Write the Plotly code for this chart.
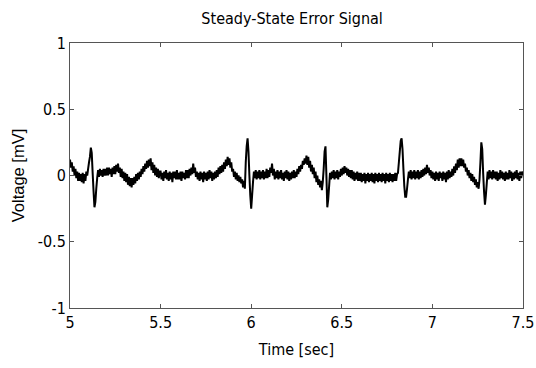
import numpy as np
import plotly.graph_objects as go

t_start = 5.0
t_step = 0.005
voltage = [
    0.12, 0.06, 0.10, 0.03, 0.07, 0.00, 0.05, -0.02, 0.03, -0.04,
    0.02, -0.04, 0.01, -0.05, 0.02, -0.06, 0.01, -0.04, 0.03, 0.00,
    0.05, 0.10, 0.14, 0.21, 0.17, 0.02, -0.12, -0.24, -0.20, -0.10,
    -0.02, 0.04, -0.01, 0.05, 0.00, 0.04, -0.01, 0.05, 0.00, 0.05,
    0.00, 0.06, 0.00, 0.06, 0.01, 0.05, -0.01, 0.06, 0.01, 0.07,
    0.01, 0.08, 0.03, 0.09, 0.02, 0.06, -0.01, 0.05, -0.02, 0.03,
    -0.04, 0.02, -0.05, 0.01, -0.07, -0.01, -0.08, -0.02, -0.09, -0.02,
    -0.07, -0.01, -0.06, 0.01, -0.04, 0.02, -0.03, 0.03, -0.01, 0.05,
    0.01, 0.07, 0.03, 0.09, 0.05, 0.11, 0.06, 0.12, 0.07, 0.13,
    0.04, 0.10, 0.02, 0.08, 0.00, 0.06, -0.01, 0.05, -0.02, 0.03,
    0.03, -0.03, 0.02, -0.04, 0.03, -0.02, 0.04, -0.03, 0.02, -0.04,
    0.03, -0.03, 0.02, -0.05, 0.03, -0.02, 0.03, -0.03, 0.04, -0.03,
    0.02, -0.03, 0.03, -0.04, 0.03, -0.02, 0.02, -0.03, 0.04, -0.02,
    0.04, -0.02, 0.05, 0.00, 0.06, 0.01, 0.09, 0.02, 0.06, -0.01,
    0.03, -0.03, 0.02, -0.04, 0.03, -0.03, 0.02, -0.05, 0.03, -0.03,
    0.02, -0.04, 0.03, -0.03, 0.04, -0.02, 0.03, -0.04, 0.02, -0.03,
    0.03, -0.02, 0.04, -0.01, 0.06, 0.01, 0.07, 0.02, 0.08, 0.03,
    0.10, 0.05, 0.12, 0.07, 0.14, 0.08, 0.13, 0.06, 0.10, 0.03,
    0.05, -0.01, 0.03, -0.03, 0.02, -0.04, 0.00, -0.05, -0.01, -0.06,
    -0.03, -0.09, -0.04, -0.10, 0.10, 0.22, 0.28, 0.18, 0.00, -0.15,
    -0.25, -0.15, -0.05, 0.03, -0.02, 0.04, -0.03, 0.03, -0.02, 0.04,
    -0.03, 0.03, -0.02, 0.04, -0.03, 0.03, -0.02, 0.05, -0.02, 0.04,
    -0.01, 0.06, 0.02, 0.09, 0.00, 0.05, -0.03, 0.03, -0.02, 0.04,
    -0.03, 0.03, -0.02, 0.04, -0.03, 0.02, -0.04, 0.03, -0.02, 0.04,
    -0.03, 0.03, -0.04, 0.02, -0.03, 0.03, -0.02, 0.04, -0.02, 0.03,
    -0.01, 0.05, 0.01, 0.07, 0.03, 0.08, 0.05, 0.11, 0.08, 0.13,
    0.09, 0.15, 0.08, 0.14, 0.06, 0.11, 0.03, 0.08, 0.01, 0.06,
    -0.02, 0.03, -0.05, 0.00, -0.07, -0.03, -0.09, -0.04, -0.11, -0.05,
    0.05, 0.18, 0.22, 0.00, -0.24, -0.18, -0.08, 0.02, -0.03, 0.03,
    -0.02, 0.04, -0.03, 0.03, -0.02, 0.04, -0.03, 0.03, -0.01, 0.05,
    0.00, 0.06, 0.01, 0.07, 0.02, 0.06, 0.00, 0.05, -0.01, 0.04,
    -0.02, 0.04, -0.03, 0.03, -0.04, 0.02, -0.03, 0.03, -0.04, 0.02,
    -0.04, 0.02, -0.05, 0.01, -0.04, 0.02, -0.06, 0.01, -0.04, 0.02,
    -0.05, 0.01, -0.04, 0.02, -0.05, 0.01, -0.06, 0.02, -0.04, 0.01,
    -0.05, 0.02, -0.04, 0.01, -0.05, 0.02, -0.04, 0.01, -0.06, 0.02,
    -0.04, 0.01, -0.05, 0.02, -0.04, 0.01, -0.05, 0.01, -0.04, 0.02,
    -0.04, 0.01, 0.02, 0.10, 0.18, 0.26, 0.28, 0.20, 0.05, -0.08,
    -0.16, -0.16, -0.10, -0.03, 0.03, -0.02, 0.04, -0.03, 0.03, -0.02,
    0.04, -0.03, 0.03, -0.02, 0.04, -0.03, 0.03, -0.02, 0.04, -0.01,
    0.05, 0.00, 0.06, 0.01, 0.08, 0.02, 0.06, 0.00, 0.04, -0.02,
    0.03, -0.03, 0.02, -0.04, 0.03, -0.03, 0.02, -0.04, 0.03, -0.02,
    0.02, -0.04, 0.03, -0.03, 0.02, -0.05, 0.03, -0.03, 0.04, -0.02,
    0.03, -0.01, 0.05, 0.00, 0.07, 0.02, 0.09, 0.04, 0.12, 0.06,
    0.13, 0.07, 0.13, 0.07, 0.12, 0.06, 0.09, 0.03, 0.06, 0.00,
    0.04, -0.02, 0.02, -0.04, 0.01, -0.05, -0.01, -0.07, -0.03, -0.09,
    -0.05, -0.10, -0.03, 0.10, 0.25, 0.20, 0.02, -0.12, -0.22, -0.15,
    -0.06, 0.03, -0.03, 0.04, -0.02, 0.03, -0.03, 0.04, -0.02, 0.03,
    -0.03, 0.03, -0.04, 0.02, -0.03, 0.04, -0.02, 0.03, -0.03, 0.02,
    -0.04, 0.03, -0.03, 0.02, -0.03, 0.04, -0.02, 0.03, -0.04, 0.02,
    -0.03, 0.03, -0.02, 0.04, -0.03, 0.02, -0.04, 0.03, -0.02, 0.03,
    0.00,
]
time = t_start + t_step * np.arange(len(voltage))

x_ticks = [5, 5.5, 6, 6.5, 7, 7.5]
x_tick_labels = ["5", "5.5", "6", "6.5", "7", "7.5"]
y_ticks = [-1, -0.5, 0, 0.5, 1]
y_tick_labels = ["-1", "-0.5", "0", "0.5", "1"]

fig = go.Figure()
fig.add_trace(go.Scatter(x=time, y=voltage, mode="lines",
                         line=dict(color="black", width=2, simplify=False),
                         showlegend=False))

font_main = "Liberation Sans Narrow, DejaVu Sans Condensed, Liberation Sans, sans-serif"
axis_common = dict(showline=True, linecolor="#555555", linewidth=1, mirror="allticks",
                   ticks="inside", ticklen=4, tickcolor="#555555", showgrid=False,
                   zeroline=False, automargin=False,
                   tickfont=dict(family=font_main, size=16, color="black"))

fig.update_layout(
    width=536, height=368,
    margin=dict(l=70, r=13, t=43, b=60),
    plot_bgcolor="white", paper_bgcolor="white",
    title=dict(text="Steady-State Error Signal", x=0.545, xanchor="center", y=0.95,
               yanchor="middle", font=dict(family=font_main, size=16, color="black")),
    xaxis=dict(range=[5, 7.5], tickvals=x_ticks, ticktext=x_tick_labels,
               title=dict(text="Time [sec]", standoff=12,
                          font=dict(family=font_main, size=16, color="black")),
               **axis_common),
    yaxis=dict(range=[-1, 1], tickvals=y_ticks, ticktext=y_tick_labels,
               title=dict(text="Voltage [mV]", standoff=8,
                          font=dict(family="Liberation Sans, Arial, sans-serif", size=16.5, color="black")),
               **axis_common),
)

fig.write_html("out.html")
